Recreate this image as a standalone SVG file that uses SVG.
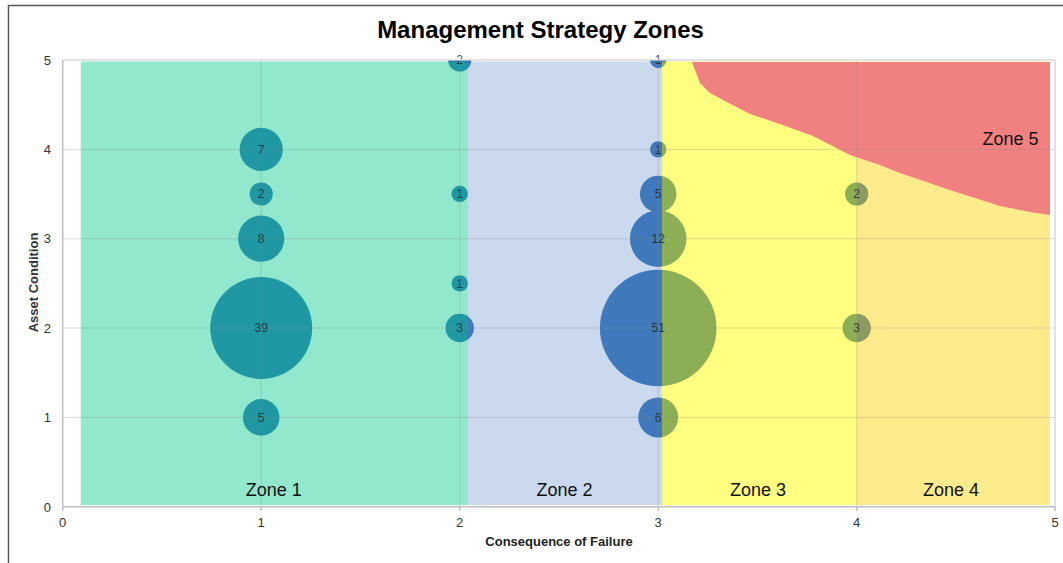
<svg xmlns="http://www.w3.org/2000/svg" width="1063" height="563" viewBox="0 0 1063 563">
<style>
text{font-family:"Liberation Sans",Arial,sans-serif}
.ytick{font-size:13px;fill:#333;text-anchor:end}
.xtick{font-size:13px;fill:#333;text-anchor:middle}
.bub{fill:#195faa}
.bl{font-size:12px;fill:#1a1a1a;fill-opacity:0.8;text-anchor:middle}
.zl{font-size:18px;fill:#111;text-anchor:middle}
.grid{stroke:#888;stroke-opacity:0.3;stroke-width:1}
.zone{fill-opacity:0.5}
</style>
<defs>
<clipPath id="plot"><rect x="62.7" y="60" width="992.3" height="446.7"/></clipPath>
</defs>
<rect x="0" y="0" width="1063" height="563" fill="#fff"/>
<rect x="8.5" y="5.5" width="1100" height="600" fill="none" stroke="#595959" stroke-width="1.5"/>
<text x="540.5" y="38" font-size="24" font-weight="bold" text-anchor="middle" fill="#000">Management Strategy Zones</text>

<g id="bubbles" clip-path="url(#plot)">
<g id="b-1-4"><circle class="bub" cx="261.2" cy="149.4" r="21.6"/></g>
<g id="b-1-35"><circle class="bub" cx="261.2" cy="194" r="11.6"/></g>
<g id="b-1-3"><circle class="bub" cx="261.2" cy="238.7" r="23.1"/></g>
<g id="b-1-2"><circle class="bub" cx="261.2" cy="328" r="51"/></g>
<g id="b-1-1"><circle class="bub" cx="261.2" cy="417.4" r="18.3"/></g>
<g id="b-2-5"><circle class="bub" cx="459.7" cy="60" r="11.6"/></g>
<g id="b-2-35"><circle class="bub" cx="459.7" cy="194" r="8.2"/></g>
<g id="b-2-25"><circle class="bub" cx="459.7" cy="283.4" r="8.2"/></g>
<g id="b-2-2"><circle class="bub" cx="459.7" cy="328" r="14.2"/></g>
<g id="b-3-5"><circle class="bub" cx="658.2" cy="60" r="8.2"/></g>
<g id="b-3-4"><circle class="bub" cx="658.2" cy="149.4" r="8.2"/></g>
<g id="b-3-35"><circle class="bub" cx="658.2" cy="194" r="18.3"/></g>
<g id="b-3-3"><circle class="bub" cx="658.2" cy="238.7" r="28.3"/></g>
<g id="b-3-2"><circle class="bub" cx="658.2" cy="328" r="58.3"/></g>
<g id="b-3-1"><circle class="bub" cx="658.2" cy="417.4" r="20"/></g>
<g id="b-4-35"><circle class="bub" cx="856.7" cy="194" r="11.6"/></g>
<g id="b-4-2"><circle class="bub" cx="856.7" cy="328" r="14.2"/></g>
</g>

<g id="zones">
<g id="zone1"><rect class="zone" x="80.7" y="61.5" width="387.3" height="443.5" fill="#25d19b"/></g>
<g id="zone2"><rect x="468" y="61.5" width="194" height="443.5" fill="#7aa0d4" fill-opacity="0.4"/></g>
<g id="zone3"><rect class="zone" x="662" y="61.5" width="195" height="443.5" fill="#ffff01"/></g>
<g id="zone4"><rect class="zone" x="857" y="61.5" width="193" height="443.5" fill="#ffd719"/></g>
<g id="zone5"><polygon points="692,62 700,83 710,93 723,100 750,114 780,124 813,136 850,155 880,165 900,173 950,190 1000,206 1030,212 1050,215 1050,62" fill="#f18080"/></g>
</g>

<g id="bubble-labels">
<text class="bl" x="261.2" y="153.7">7</text>
<text class="bl" x="261.2" y="198.3">2</text>
<text class="bl" x="261.2" y="243">8</text>
<text class="bl" x="261.2" y="332.3">39</text>
<text class="bl" x="261.2" y="421.7">5</text>
<text class="bl" x="459.7" y="64.3">2</text>
<text class="bl" x="459.7" y="198.3">1</text>
<text class="bl" x="459.7" y="287.7">1</text>
<text class="bl" x="459.7" y="332.3">3</text>
<text class="bl" x="658.2" y="64.3">1</text>
<text class="bl" x="658.2" y="153.7">1</text>
<text class="bl" x="658.2" y="198.3">5</text>
<text class="bl" x="658.2" y="243">12</text>
<text class="bl" x="658.2" y="332.3">51</text>
<text class="bl" x="658.2" y="421.7">6</text>
<text class="bl" x="856.7" y="198.3">2</text>
<text class="bl" x="856.7" y="332.3">3</text>
</g>

<g id="gridlines">
<line class="grid" x1="261.2" y1="60" x2="261.2" y2="506.7"/>
<line class="grid" x1="459.7" y1="60" x2="459.7" y2="506.7"/>
<line class="grid" x1="658.2" y1="60" x2="658.2" y2="506.7"/>
<line class="grid" x1="856.7" y1="60" x2="856.7" y2="506.7"/>
<line class="grid" x1="62.7" y1="149.4" x2="1055" y2="149.4"/>
<line class="grid" x1="62.7" y1="238.7" x2="1055" y2="238.7"/>
<line class="grid" x1="62.7" y1="328" x2="1055" y2="328"/>
<line class="grid" x1="62.7" y1="417.4" x2="1055" y2="417.4"/>
<polyline points="62.7,60 1055,60 1055,506.7" fill="none" stroke="#d9d9d9" stroke-width="1.5"/>
</g>

<g id="axes" stroke="#bfbfbf" stroke-width="1.5" fill="none">
<line x1="62.7" y1="60" x2="62.7" y2="507.5"/>
<line x1="62" y1="506.7" x2="1055" y2="506.7"/>
<line x1="62.7" y1="506.7" x2="62.7" y2="511"/>
<line x1="261.2" y1="506.7" x2="261.2" y2="511"/>
<line x1="459.7" y1="506.7" x2="459.7" y2="511"/>
<line x1="658.2" y1="506.7" x2="658.2" y2="511"/>
<line x1="856.7" y1="506.7" x2="856.7" y2="511"/>
<line x1="1055" y1="506.7" x2="1055" y2="511"/>
</g>

<g id="tick-labels">
<text class="ytick" x="51" y="511.5">0</text>
<text class="ytick" x="51" y="422">1</text>
<text class="ytick" x="51" y="332.5">2</text>
<text class="ytick" x="51" y="243.2">3</text>
<text class="ytick" x="51" y="153.9">4</text>
<text class="ytick" x="51" y="64.7">5</text>
<text class="xtick" x="62.7" y="527">0</text>
<text class="xtick" x="261.2" y="527">1</text>
<text class="xtick" x="459.7" y="527">2</text>
<text class="xtick" x="658.2" y="527">3</text>
<text class="xtick" x="856.7" y="527">4</text>
<text class="xtick" x="1055" y="527">5</text>
</g>

<g id="zone-labels">
<text class="zl" x="273.7" y="496">Zone 1</text>
<text class="zl" x="564.5" y="496">Zone 2</text>
<text class="zl" x="758" y="496">Zone 3</text>
<text class="zl" x="951" y="496">Zone 4</text>
<text class="zl" x="1010.5" y="145">Zone 5</text>
</g>

<text x="559" y="545.7" font-size="13" font-weight="bold" text-anchor="middle" fill="#222">Consequence of Failure</text>
<text transform="translate(37.7,282.5) rotate(-90)" font-size="13" font-weight="bold" text-anchor="middle" fill="#333">Asset Condition</text>
</svg>
